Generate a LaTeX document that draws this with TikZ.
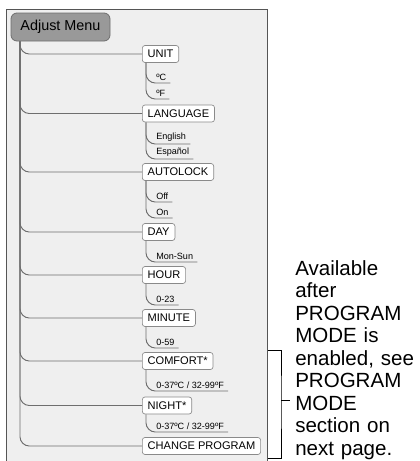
\documentclass[tikz,border=0pt]{standalone}
\usepackage{fontspec}
\setmainfont{Liberation Sans}
\definecolor{panelbg}{HTML}{EFEFEF}
\definecolor{paneledge}{HTML}{555555}
\definecolor{linec}{HTML}{6E6E6E}
\definecolor{boxedge}{HTML}{8A8A8A}
\definecolor{menufill}{HTML}{999999}
\begin{document}
\begin{tikzpicture}[x=0.75pt,y=-0.75pt,
  menu/.style={draw=linec, fill=menufill, rounded corners=4.5pt, minimum width=74.25pt, minimum height=21pt, inner sep=0pt, font=\fontsize{10.8}{12}\selectfont, line width=0.6pt},
  item/.style={draw=boxedge, fill=white, rounded corners=2pt, anchor=west, minimum height=12.75pt, inner xsep=4pt, inner ysep=0pt, font=\fontsize{8.3}{9.6}\selectfont, line width=0.5pt},
  sub/.style={anchor=south west, inner xsep=3pt, inner ysep=1.4pt, font=\fontsize{6.8}{8}\selectfont},
  branch/.style={draw=linec, line width=0.7pt, rounded corners=7pt},
  brk/.style={draw=black, line width=0.6pt}]
\useasboundingbox (0,0) rectangle (420,461);
\fill[panelbg] (6,9) rectangle (267,462);
\draw[paneledge, line width=0.7pt] (6,463) -- (6,9) -- (267,9) -- (267,463);
\path (20,0) coordinate (tx) (146,0) coordinate (sx);
\node[menu] (adj) at (60.5,27) {Adjust Menu};
\node[item] (unit) at (142,54) {UNIT};
\node[item] (lang) at (142,113.5) {LANGUAGE};
\node[item] (auto) at (142,172) {AUTOLOCK};
\node[item] (day) at (142,232) {DAY};
\node[item] (hour) at (142,275) {HOUR};
\node[item] (minute) at (142,318) {MINUTE};
\node[item] (comfort) at (142,361) {COMFORT*};
\node[item] (night) at (142,405.5) {NIGHT*};
\node[item] (change) at (142,446) {CHANGE PROGRAM};
\node[sub] (uc) at (152,83) {ºC};
\node[sub] (uf) at (152,99) {ºF};
\node[sub] (len) at (152,144) {English};
\node[sub] (les) at (152,159) {Español};
\node[sub] (aoff) at (152,202) {Off};
\node[sub] (aon) at (152,218) {On};
\node[sub] (dsub) at (152,262) {Mon-Sun};
\node[sub] (hsub) at (152,305) {0-23};
\node[sub] (msub) at (152,348) {0-59};
\node[sub] (csub) at (152,391) {0-37ºC / 32-99ºF};
\node[sub] (nsub) at (152,432) {0-37ºC / 32-99ºF};
\foreach \n in {unit,lang,auto,day,hour,minute,comfort,night,change}
  \draw[branch] (adj.south -| tx) |- (\n.west);
\draw[branch] (unit.south -| sx) |- (uc.south east);
\draw[branch] (unit.south -| sx) |- (uf.south east);
\draw[branch] (lang.south -| sx) |- (len.south east);
\draw[branch] (lang.south -| sx) |- (les.south east);
\draw[branch] (auto.south -| sx) |- (aoff.south east);
\draw[branch] (auto.south -| sx) |- (aon.south east);
\draw[branch] (day.south -| sx) |- (dsub.south east);
\draw[branch] (hour.south -| sx) |- (hsub.south east);
\draw[branch] (minute.south -| sx) |- (msub.south east);
\draw[branch] (comfort.south -| sx) |- (csub.south east);
\draw[branch] (night.south -| sx) |- (nsub.south east);
\node[anchor=base west, text width=125pt, align=left, inner sep=0pt, font=\fontsize{15.4}{16.9}\selectfont] (note) at (295,275)
  {Available\\after\\PROGRAM\\MODE is\\enabled, see\\PROGRAM\\MODE\\section on\\next page.};
\coordinate (bt) at (268,350);
\coordinate (bb) at (268,458);
\coordinate (bm) at (281,400);
\coordinate (bx) at (290,400);
\draw[brk] (bt) -| (bm) |- (bb);
\draw[brk] (bm) -- (bx);
\end{tikzpicture}
\end{document}
